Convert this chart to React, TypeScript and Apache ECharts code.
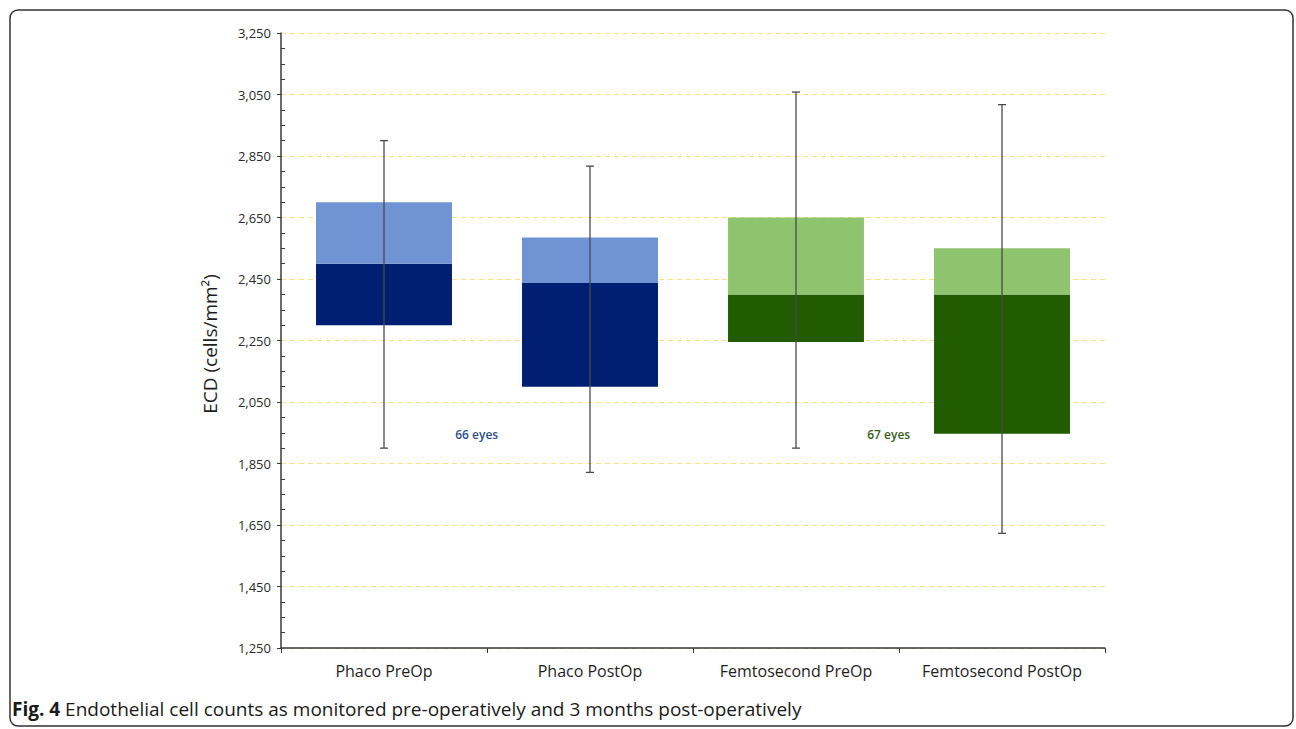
import React, { useEffect, useRef } from "react";
import * as echarts from "echarts";

const categories = ["Phaco PreOp", "Phaco PostOp", "Femtosecond PreOp", "Femtosecond PostOp"];
const boxLow = [2300, 2100, 2245, 1947];
const boxMid = [2500, 2437, 2400, 2400];
const boxHigh = [2700, 2585, 2650, 2550];
const whiskerLow = [1900, 1821, 1900, 1623];
const whiskerHigh = [2900, 2817, 3058, 3017];
const darkColors = ["#001f73", "#001f73", "#225c00", "#225c00"];
const lightColors = ["#6f93d3", "#6f93d3", "#8fc46f", "#8fc46f"];
const annotations = [
  { text: "66 eyes", value: 1945, pos: 0.45, color: "#2f4f8a" },
  { text: "67 eyes", value: 1945, pos: 2.45, color: "#376020" },
];
const yAxisTitle = "ECD (cells/mm²)";
const caption = "Endothelial cell counts as monitored pre-operatively and 3 months post-operatively";
const yMin = 1250;
const yMax = 3250;
const yStep = 200;

export default function App() {
  const ref = useRef<HTMLDivElement>(null);
  useEffect(() => {
    if (!ref.current) return;
    const chart = echarts.init(ref.current, null, { renderer: "svg" });
    const gridLeft = 281;
    const gridRight = 1105;
    const gridTop = 33;
    const gridBottom = 648;
    const catW = (gridRight - gridLeft) / categories.length;
    const yToPx = (v: number) => gridTop + ((yMax - v) / (yMax - yMin)) * (gridBottom - gridTop);

    const option: any = {
      animation: false,
      backgroundColor: "#ffffff",
      grid: { left: gridLeft, right: 1296 - gridRight, top: gridTop, bottom: 729 - gridBottom },
      xAxis: {
        type: "category",
        data: categories,
        axisLine: { lineStyle: { color: "#3a3a3a", width: 1.5 } },
        axisTick: { show: true, interval: 0, length: 5, lineStyle: { color: "#3a3a3a" } },
        axisLabel: { interval: 0, color: "#1e1e1e", fontSize: 16, fontFamily: "Open Sans", margin: 15 },
      },
      yAxis: [
        {
          type: "value",
          min: yMin,
          max: yMax,
          interval: yStep,
          axisLine: { show: true, lineStyle: { color: "#3a3a3a", width: 1.5 } },
          axisTick: { show: true, length: 4, lineStyle: { color: "#3a3a3a" } },
          axisLabel: {
            color: "#2a2a2a",
            fontSize: 13,
            fontFamily: "Open Sans",
            margin: 10,
            formatter: (v: number) => v.toLocaleString("en-US"),
          },
          splitLine: { show: true, lineStyle: { color: "#ffdf80", type: [5, 4], width: 1.2 } },
        },
        {
          type: "value",
          min: yMin,
          max: yMax,
          interval: yStep,
          position: "left",
          axisLine: { show: false },
          axisLabel: { show: false },
          axisTick: { show: false, inside: true },
          minorTick: { show: true, splitNumber: 4, length: 4, lineStyle: { color: "#3a3a3a", width: 1 } },
          splitLine: { show: false },
        },
      ],
      series: [
        {
          type: "bar",
          stack: "box",
          barWidth: "66%",
          silent: true,
          itemStyle: { color: "transparent" },
          data: boxLow,
        },
        {
          type: "bar",
          stack: "box",
          silent: true,
          data: boxMid.map((m, i) => ({ value: m - boxLow[i], itemStyle: { color: darkColors[i] } })),
        },
        {
          type: "bar",
          stack: "box",
          silent: true,
          data: boxHigh.map((h, i) => ({ value: h - boxMid[i], itemStyle: { color: lightColors[i] } })),
        },
        {
          type: "custom",
          silent: true,
          z: 10,
          data: categories.map((_, i) => [i, whiskerLow[i], whiskerHigh[i]]),
          renderItem: (params: any, api: any) => {
            const x = api.value(0);
            const lo = api.coord([x, api.value(1)]);
            const hi = api.coord([x, api.value(2)]);
            const cap = 4;
            const style = { stroke: "#4a4a4a", lineWidth: 1.3 };
            return {
              type: "group",
              children: [
                { type: "line", shape: { x1: lo[0], y1: lo[1], x2: hi[0], y2: hi[1] }, style },
                { type: "line", shape: { x1: lo[0] - cap, y1: lo[1], x2: lo[0] + cap, y2: lo[1] }, style },
                { type: "line", shape: { x1: hi[0] - cap, y1: hi[1], x2: hi[0] + cap, y2: hi[1] }, style },
              ],
            };
          },
        },
      ],
      graphic: [
        ...annotations.map((a) => ({
          type: "text",
          x: gridLeft + catW * (a.pos + 0.5),
          y: yToPx(a.value),
          style: {
            text: a.text,
            fill: a.color,
            font: "600 12px 'Open Sans'",
            textAlign: "center",
            textVerticalAlign: "middle",
          },
        })),
        {
          type: "text",
          x: 210,
          y: 344,
          rotation: Math.PI / 2,
          style: {
            text: yAxisTitle,
            fill: "#1e1e1e",
            font: "19px 'Open Sans'",
            textAlign: "center",
            textVerticalAlign: "middle",
          },
        },
        {
          type: "rect",
          shape: { x: 10, y: 10, width: 1283, height: 716, r: 8 },
          style: { fill: "none", stroke: "#333", lineWidth: 1.5 },
          silent: true,
        },
        {
          type: "text",
          x: 12,
          y: 709,
          style: {
            text: "{b|Fig. 4} " + caption,
            rich: {
              b: { fontWeight: "bold", fontSize: 19, fontFamily: "Open Sans", fill: "#1a1a1a" },
            },
            fontSize: 19,
            fontFamily: "Open Sans",
            fill: "#1a1a1a",
            textVerticalAlign: "middle",
          },
        },
      ],
    };
    chart.setOption(option);
    return () => chart.dispose();
  }, []);
  return (
    <div
      ref={ref}
      style={{ position: "fixed", left: 0, top: 0, width: 1296, height: 729, background: "#fff" }}
    />
  );
}
